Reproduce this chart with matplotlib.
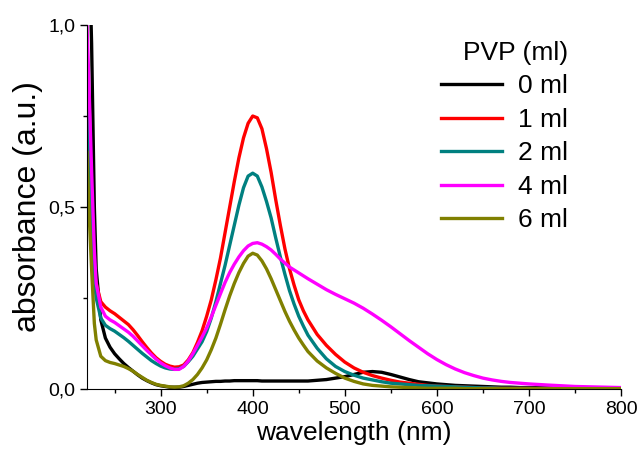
import numpy as np
import matplotlib
matplotlib.use("Agg")
import matplotlib.pyplot as plt
from matplotlib.ticker import MultipleLocator, FuncFormatter

plt.rcParams['font.family'] = ['Liberation Sans', 'DejaVu Sans']

# wavelength grid (nm)
wavelength = ([220, 222, 225, 228, 230]
              + list(range(235, 461, 5))
              + list(range(470, 701, 10))
              + [720, 750, 800])

# absorbance
abs_0ml = [1.5, 1.25, 0.95, 0.5, 0.33,
           0.19, 0.14, 0.115, 0.097, 0.083, 0.07, 0.059, 0.049, 0.039, 0.03, 0.023, 0.017, 0.012, 0.009,
           0.007, 0.005, 0.005, 0.005,
           0.007, 0.01, 0.013, 0.016, 0.018, 0.019, 0.02, 0.021, 0.021, 0.022, 0.022, 0.023, 0.023, 0.023,
           0.023, 0.023, 0.023, 0.022, 0.022, 0.022, 0.022, 0.022, 0.022, 0.022, 0.022, 0.022, 0.022, 0.022,
           0.024, 0.026, 0.03, 0.034, 0.04, 0.046, 0.048, 0.046, 0.04, 0.033, 0.026, 0.02,
           0.017, 0.014, 0.012, 0.01, 0.009, 0.008, 0.007, 0.006, 0.005, 0.005, 0.004, 0.004,
           0.003, 0.002, 0.002]
abs_1ml = [0.73, 0.6, 0.42, 0.32, 0.29,
           0.24, 0.225, 0.215, 0.207, 0.197, 0.187, 0.177, 0.163, 0.147, 0.13, 0.114, 0.099, 0.086, 0.076,
           0.068, 0.063, 0.06, 0.061,
           0.066, 0.08, 0.1, 0.128, 0.16, 0.2, 0.245, 0.3, 0.36, 0.43, 0.5, 0.57, 0.635, 0.69,
           0.73, 0.75, 0.745, 0.715, 0.66, 0.595, 0.52, 0.45, 0.385, 0.33, 0.285, 0.245, 0.215, 0.19,
           0.15, 0.12, 0.095, 0.074, 0.058, 0.046, 0.037, 0.03, 0.024, 0.019, 0.016, 0.013,
           0.01, 0.008, 0.007, 0.006, 0.005, 0.004, 0.003, 0.003, 0.002, 0.002, 0.002, 0.002,
           0.001, 0.001, 0.001]
abs_2ml = [0.9, 0.7, 0.45, 0.3, 0.25,
           0.195, 0.175, 0.166, 0.159, 0.15, 0.141, 0.131, 0.12, 0.109, 0.098, 0.088, 0.078, 0.07, 0.063,
           0.058, 0.055, 0.054, 0.056,
           0.062, 0.075, 0.09, 0.11, 0.13, 0.158, 0.195, 0.24, 0.29, 0.34, 0.395, 0.45, 0.505, 0.553,
           0.585, 0.593, 0.585, 0.555, 0.515, 0.47, 0.415, 0.363, 0.315, 0.27, 0.233, 0.2, 0.173, 0.148,
           0.112, 0.083, 0.062, 0.048, 0.038, 0.03, 0.025, 0.02, 0.016, 0.014, 0.012, 0.01,
           0.009, 0.008, 0.007, 0.006, 0.005, 0.004, 0.003, 0.003, 0.002, 0.002, 0.002, 0.002,
           0.001, 0.001, 0.001]
abs_4ml = [1.0, 0.85, 0.6, 0.38, 0.29,
           0.225, 0.2, 0.19, 0.183, 0.174, 0.165, 0.156, 0.145, 0.132, 0.119, 0.106, 0.094, 0.082, 0.072,
           0.064, 0.058, 0.054, 0.054,
           0.062, 0.077, 0.097, 0.12, 0.143, 0.168, 0.198, 0.23, 0.262, 0.293, 0.32, 0.343, 0.363, 0.38,
           0.393, 0.4, 0.402, 0.398, 0.391, 0.382, 0.37, 0.357, 0.346, 0.335, 0.327, 0.319, 0.311, 0.303,
           0.288, 0.273, 0.26, 0.248, 0.236, 0.222, 0.206, 0.189, 0.171, 0.152, 0.133, 0.115,
           0.097, 0.081, 0.067, 0.055, 0.045, 0.037, 0.03, 0.025, 0.021, 0.018, 0.016, 0.014,
           0.011, 0.007, 0.004]
abs_6ml = [0.65, 0.5, 0.33, 0.18, 0.135,
           0.09, 0.078, 0.073, 0.07, 0.066, 0.062, 0.056, 0.049, 0.04, 0.032, 0.024, 0.018, 0.013, 0.01,
           0.008, 0.006, 0.005, 0.006,
           0.009, 0.016, 0.026, 0.04, 0.058, 0.08, 0.108, 0.14, 0.178, 0.218, 0.256, 0.29, 0.32, 0.345,
           0.365, 0.373, 0.368, 0.352, 0.33, 0.303, 0.273, 0.243, 0.213, 0.186, 0.162, 0.14, 0.121, 0.103,
           0.077, 0.058, 0.043, 0.03, 0.021, 0.014, 0.01, 0.008, 0.006, 0.005, 0.004, 0.003,
           0.002, 0.002, 0.002, 0.002, 0.001, 0.001, 0.001, 0.001, 0.001, 0.001, 0.001, 0.001,
           0.001, 0.001, 0.001]

labels = ['0 ml', '1 ml', '2 ml', '4 ml', '6 ml']
colors = ['#000000', '#FF0000', '#008080', '#FF00FF', '#808000']
series = [abs_0ml, abs_1ml, abs_2ml, abs_4ml, abs_6ml]

fig = plt.figure(figsize=(6.41, 4.55), dpi=100)
ax = fig.add_axes([0.1357, 0.145, 0.8331, 0.800])

for y, c, lab in zip(series, colors, labels):
    ax.plot(wavelength, y, color=c, lw=2.4, label=lab, solid_joinstyle='round')

ax.set_xlim(220, 800)
ax.set_ylim(0, 1.0)
ax.xaxis.set_major_locator(MultipleLocator(100))
ax.xaxis.set_minor_locator(MultipleLocator(50))
ax.yaxis.set_major_locator(MultipleLocator(0.5))
ax.yaxis.set_minor_locator(MultipleLocator(0.25))
ax.yaxis.set_major_formatter(FuncFormatter(lambda v, p: f"{v:.1f}".replace('.', ',')))

ax.spines['top'].set_visible(False)
ax.spines['right'].set_visible(False)
ax.tick_params(which='major', direction='out', length=5, width=1, labelsize=14)
ax.tick_params(which='minor', direction='out', length=3, width=1)

ax.set_xlabel('wavelength (nm)', fontsize=19, labelpad=2)
ax.set_ylabel('absorbance (a.u.)', fontsize=23, labelpad=4)

leg = ax.legend(title='PVP (ml)', frameon=False, fontsize=19, title_fontsize=19,
                loc='upper right', bbox_to_anchor=(0.93, 1.0), handlelength=2.3,
                handletextpad=0.6, labelspacing=0.36, borderaxespad=0.2,
                alignment='right')

fig.savefig('out.png', dpi=100)
